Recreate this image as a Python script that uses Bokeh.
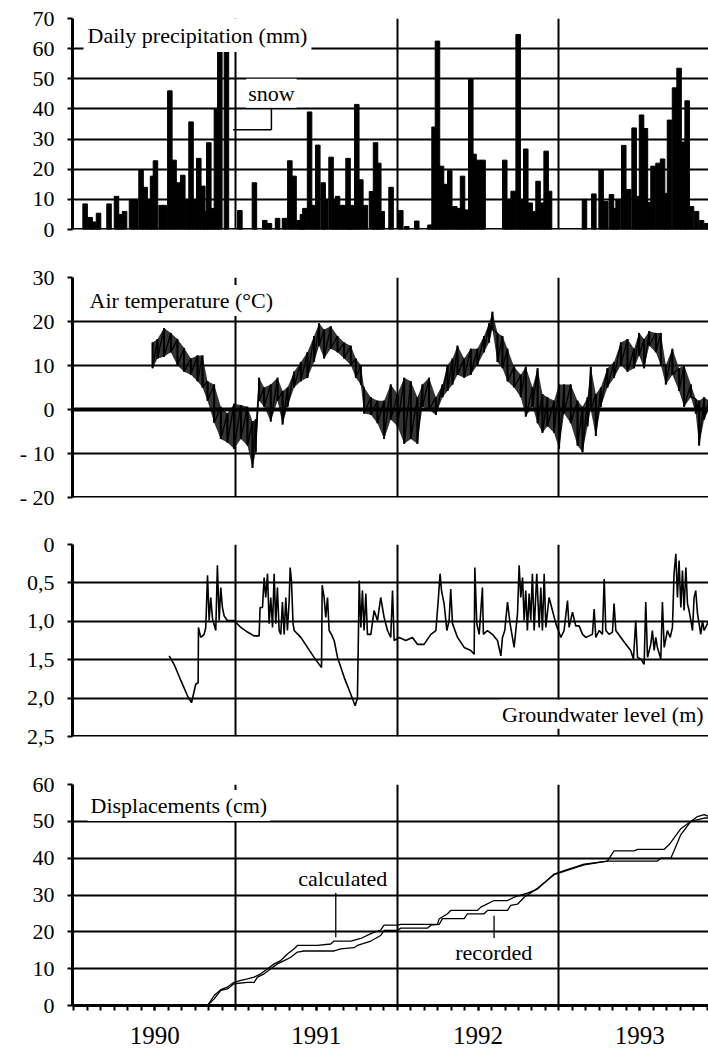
from bokeh.plotting import figure
from bokeh.layouts import column
from bokeh.models import Range1d, FixedTicker, Label, Span
from bokeh.embed import file_html
from bokeh.resources import INLINE

# ---------------- data (decimal years) ----------------
precip_t = [1990.070, 1990.101, 1990.122, 1990.153, 1990.218, 1990.264, 1990.286, 1990.314,
            1990.357, 1990.383, 1990.416, 1990.441, 1990.466, 1990.487, 1990.505, 1990.540,
            1990.563, 1990.594, 1990.620, 1990.645, 1990.674, 1990.703, 1990.725, 1990.750,
            1990.773, 1990.798, 1990.816, 1990.835, 1990.858, 1990.882, 1990.903, 1990.944,
            1991.027, 1991.117, 1991.181, 1991.210, 1991.260, 1991.303, 1991.336, 1991.362,
            1991.393, 1991.414, 1991.429, 1991.458, 1991.486, 1991.509, 1991.542, 1991.558,
            1991.591, 1991.611, 1991.631, 1991.655, 1991.676, 1991.696, 1991.707, 1991.728,
            1991.750, 1991.775, 1991.803, 1991.841, 1991.866, 1991.886, 1991.907, 1991.962,
            1992.022, 1992.059, 1992.121, 1992.203, 1992.228, 1992.249, 1992.274, 1992.300,
            1992.325, 1992.356, 1992.380, 1992.404, 1992.426, 1992.455, 1992.475, 1992.505,
            1992.531, 1992.665, 1992.692, 1992.717, 1992.748, 1992.772, 1992.795, 1992.822,
            1992.847, 1992.871, 1992.898, 1992.921, 1992.942, 1993.158, 1993.216, 1993.261,
            1993.290, 1993.325, 1993.346, 1993.366, 1993.401, 1993.432, 1993.465, 1993.488,
            1993.511, 1993.535, 1993.559, 1993.582, 1993.613, 1993.641, 1993.662, 1993.684,
            1993.715, 1993.743, 1993.768, 1993.793, 1993.820, 1993.851, 1993.882, 1993.913]
precip_mm = [8.5, 4, 2.5, 5.4, 8.5, 11, 5, 6,
             10, 10, 19.8, 14, 10, 17.7, 22.8, 8,
             8, 46, 23, 15.5, 18, 10, 35.7, 10,
             23.6, 14.4, 6, 28.8, 7, 40, 60, 62,
             6.3, 15.5, 3, 2, 3.7, 3.7, 22.8, 17.7,
             3, 5, 7, 39, 8, 28, 15.5, 10,
             24, 10, 11, 8, 8, 23.6, 7, 8,
             41.5, 16.5, 8, 12.6, 28.8, 22, 6, 14,
             6.3, 1, 2.8, 1.5, 34, 62.5, 21, 15,
             19.5, 7.6, 7, 17.7, 6.5, 50, 25, 23,
             23, 23, 10, 12.7, 64.7, 10, 26.7, 8.8,
             6, 16, 8.8, 26, 12.7, 10, 11.8, 19.8,
             9.3, 11.6, 7, 10, 27.9, 13.3, 33.7, 11,
             38, 33.5, 9, 21, 22, 23.4, 12, 36.3,
             47, 53.5, 29, 42.7, 7.6, 6, 3, 2]

temp_t = [1990.487, 1990.518, 1990.558, 1990.600, 1990.641, 1990.682, 1990.724, 1990.765,
          1990.796, 1990.827, 1990.868, 1990.909, 1990.950, 1990.991, 1991.033, 1991.074,
          1991.105, 1991.125, 1991.146, 1991.177, 1991.218, 1991.260, 1991.291, 1991.322,
          1991.362, 1991.404, 1991.445, 1991.486, 1991.517, 1991.548, 1991.589, 1991.631,
          1991.672, 1991.713, 1991.744, 1991.775, 1991.795, 1991.837, 1991.878, 1991.919,
          1991.960, 1992.002, 1992.043, 1992.084, 1992.125, 1992.156, 1992.197, 1992.239,
          1992.280, 1992.311, 1992.342, 1992.373, 1992.414, 1992.455, 1992.496, 1992.537,
          1992.568, 1992.589, 1992.620, 1992.651, 1992.682, 1992.723, 1992.764, 1992.795,
          1992.837, 1992.868, 1992.898, 1992.929, 1992.970, 1993.001, 1993.032, 1993.073,
          1993.115, 1993.146, 1993.177, 1993.197, 1993.228, 1993.259, 1993.300, 1993.341,
          1993.383, 1993.424, 1993.465, 1993.496, 1993.527, 1993.558, 1993.599, 1993.630,
          1993.661, 1993.702, 1993.743, 1993.774, 1993.816, 1993.846, 1993.867, 1993.898,
          1993.927]
temp_hi = [15.2, 16.0, 18.5, 17.4, 16.0, 14.0, 11.6, 12.3,
           12.3, 6.4, 5.7, 0.6, -0.9, 1.3, 1.0, 0.6,
           -2.7, -2.3, 7.2, 5.0, 5.7, 7.2, 4.2, 5.0,
           8.6, 10.8, 13.0, 16.7, 19.6, 18.2, 18.9, 16.7,
           15.2, 14.5, 11.6, 10.1, 5.0, 2.8, 2.0, 2.0,
           5.7, 3.5, 7.2, 6.4, 2.8, 5.7, 7.2, 2.8,
           5.7, 10.1, 11.6, 14.5, 11.6, 13.8, 13.8, 16.7,
           19.6, 22.2, 17.4, 16.7, 13.8, 9.7, 7.9, 9.7,
           5.0, 9.4, 3.5, 2.8, 2.0, 5.7, 5.7, 5.7,
           2.0, 0.6, 2.8, 9.7, 3.5, 5.0, 9.4, 10.8,
           15.2, 16.0, 13.8, 17.4, 16.0, 17.8, 17.4, 17.4,
           10.1, 13.8, 9.4, 10.1, 5.7, 2.4, 2.0, 2.8,
           2.0]
temp_lo = [9.4, 11.6, 12.0, 13.0, 10.0, 8.6, 7.9, 6.4,
           5.0, 2.0, -3.0, -6.7, -7.5, -8.9, -6.7, -8.2,
           -13.3, -9.7, 2.0, 0.6, -2.7, 2.0, -3.4, 0.6,
           5.0, 6.4, 7.2, 10.8, 14.5, 11.6, 13.8, 13.0,
           11.6, 10.1, 7.2, 5.7, -0.9, -1.2, -3.1, -6.7,
           -2.3, -3.8, -7.8, -6.7, -7.8, 0.6, -0.1, -1.2,
           2.8, 4.2, 5.7, 7.9, 7.2, 7.9, 10.1, 13.0,
           15.2, 18.2, 10.8, 9.4, 6.4, 5.0, 2.8, -1.6,
           0.6, -3.1, -5.3, -3.8, -5.3, -8.9, -0.9, -3.1,
           -8.2, -9.7, -3.8, -0.1, -6.0, 0.6, 5.0, 7.2,
           10.1, 8.6, 9.4, 12.3, 9.4, 14.5, 13.0, 10.1,
           5.7, 7.9, 4.2, 0.6, 2.8, -0.9, -8.2, -2.3,
           -0.1]

gw_t = [1990.590, 1990.620, 1990.662, 1990.703, 1990.728, 1990.740, 1990.754, 1990.769, 1990.771, 1990.785,
        1990.806, 1990.816, 1990.827, 1990.837, 1990.847, 1990.858, 1990.878, 1990.888, 1990.899, 1990.909,
        1990.919, 1990.930, 1990.950, 1990.991, 1991.033, 1991.074, 1991.115, 1991.146, 1991.152, 1991.167,
        1991.177, 1991.187, 1991.198, 1991.208, 1991.218, 1991.229, 1991.239, 1991.249, 1991.259, 1991.270,
        1991.280, 1991.290, 1991.301, 1991.311, 1991.321, 1991.332, 1991.338, 1991.346, 1991.356, 1991.363,
        1991.404, 1991.445, 1991.486, 1991.517, 1991.532, 1991.536, 1991.548, 1991.558, 1991.569, 1991.579,
        1991.593, 1991.610, 1991.631, 1991.672, 1991.713, 1991.740, 1991.754, 1991.758, 1991.765, 1991.775,
        1991.785, 1991.795, 1991.806, 1991.816, 1991.837, 1991.857, 1991.878, 1991.898, 1991.919, 1991.940,
        1991.960, 1991.971, 1991.981, 1992.012, 1992.053, 1992.094, 1992.125, 1992.166, 1992.208, 1992.239,
        1992.253, 1992.265, 1992.274, 1992.290, 1992.307, 1992.321, 1992.331, 1992.342, 1992.373, 1992.414,
        1992.455, 1992.476, 1992.480, 1992.492, 1992.507, 1992.527, 1992.533, 1992.558, 1992.589, 1992.620,
        1992.641, 1992.651, 1992.665, 1992.682, 1992.698, 1992.723, 1992.744, 1992.754, 1992.764, 1992.775,
        1992.785, 1992.795, 1992.805, 1992.816, 1992.826, 1992.836, 1992.847, 1992.863, 1992.878, 1992.888,
        1992.898, 1992.909, 1992.919, 1992.939, 1992.960, 1992.981, 1993.012, 1993.032, 1993.053, 1993.063,
        1993.084, 1993.104, 1993.125, 1993.146, 1993.166, 1993.187, 1993.207, 1993.218, 1993.228, 1993.249,
        1993.269, 1993.280, 1993.290, 1993.310, 1993.331, 1993.341, 1993.352, 1993.383, 1993.414, 1993.444,
        1993.461, 1993.475, 1993.486, 1993.506, 1993.527, 1993.537, 1993.548, 1993.568, 1993.578, 1993.589,
        1993.599, 1993.609, 1993.630, 1993.640, 1993.651, 1993.671, 1993.688, 1993.702, 1993.712, 1993.723,
        1993.733, 1993.743, 1993.754, 1993.764, 1993.774, 1993.785, 1993.795, 1993.805, 1993.816, 1993.826,
        1993.836, 1993.846, 1993.857, 1993.867, 1993.877, 1993.888, 1993.898, 1993.927]
gw_m = [1.45, 1.56, 1.77, 1.97, 2.06, 1.95, 1.82, 1.80, 1.08, 1.21,
        1.17, 1.08, 0.40, 0.99, 0.69, 0.97, 1.12, 0.27, 0.99, 0.56,
        0.82, 0.93, 0.99, 0.99, 1.08, 1.14, 1.19, 1.19, 0.82, 0.82,
        0.43, 0.69, 0.38, 1.03, 0.69, 1.08, 0.38, 1.03, 0.56, 1.12,
        1.17, 0.75, 1.17, 0.69, 1.12, 0.73, 0.30, 0.47, 1.03, 1.12,
        1.21, 1.34, 1.47, 1.56, 1.60, 0.53, 0.69, 0.95, 0.69, 1.12,
        1.17, 1.25, 1.47, 1.73, 1.95, 2.10, 2.00, 1.47, 0.47, 1.08,
        0.60, 1.12, 0.64, 1.17, 1.17, 0.86, 0.99, 0.69, 0.95, 1.12,
        1.21, 0.60, 1.25, 1.21, 1.25, 1.21, 1.30, 1.30, 1.17, 1.12,
        0.75, 0.38, 0.60, 0.77, 1.12, 0.99, 0.58, 1.03, 1.21, 1.34,
        1.38, 1.43, 0.30, 1.03, 1.17, 0.56, 1.17, 1.12, 1.17, 1.25,
        1.45, 1.21, 1.12, 0.75, 1.03, 1.34, 0.90, 0.27, 0.69, 0.43,
        0.99, 0.60, 1.12, 0.64, 0.99, 0.38, 1.12, 0.38, 1.08, 0.56,
        1.12, 0.38, 1.08, 0.69, 0.86, 1.03, 1.21, 1.12, 0.73, 1.08,
        0.88, 1.06, 1.06, 1.17, 1.21, 1.19, 1.17, 0.84, 1.21, 1.12,
        1.17, 0.45, 1.12, 1.17, 1.14, 0.77, 1.12, 1.21, 1.30, 1.38,
        1.49, 0.99, 1.47, 1.49, 1.56, 0.75, 1.47, 1.30, 1.12, 1.38,
        1.21, 1.34, 1.49, 0.75, 1.34, 1.12, 1.21, 1.08, 0.38, 0.12,
        0.69, 0.21, 0.82, 0.34, 0.86, 0.30, 0.77, 0.86, 0.99, 1.12,
        0.69, 0.60, 0.90, 1.03, 1.17, 0.99, 1.12, 0.99]

calc_t = [1990.827, 1990.868, 1990.909, 1990.950, 1990.991, 1991.033, 1991.074, 1991.115,
          1991.156, 1991.198, 1991.239, 1991.280, 1991.321, 1991.363, 1991.383, 1991.507,
          1991.589, 1991.610, 1991.713, 1991.775, 1991.837, 1991.898, 1991.919, 1992.001,
          1992.022, 1992.249, 1992.259, 1992.311, 1992.331, 1992.496, 1992.517, 1992.599,
          1992.682, 1992.723, 1992.805, 1992.867, 1992.970, 1993.032, 1993.156, 1993.300,
          1993.341, 1993.465, 1993.486, 1993.651, 1993.682, 1993.754, 1993.857, 1993.898,
          1993.927]
calc_cm = [0, 2.7, 4.3, 5.0, 6.3, 6.8, 7.2, 7.7,
           8.6, 10.0, 11.3, 12.2, 14.0, 15.4, 16.3, 16.3,
           16.7, 17.5, 17.5, 18.2, 19.5, 20.5, 21.8, 21.8,
           22.0, 22.0, 23.5, 24.9, 25.8, 25.8, 26.7, 28.5,
           28.5, 29.4, 30.5, 31.6, 35.7, 36.6, 38.4, 39.2,
           42.0, 42.0, 42.4, 42.4, 43.7, 48.0, 51.3, 51.8,
           51.3]

rec_t = [1990.827, 1990.868, 1990.909, 1990.950, 1990.991, 1991.074, 1991.115, 1991.136,
         1991.177, 1991.218, 1991.259, 1991.301, 1991.342, 1991.383, 1991.424, 1991.610,
         1991.651, 1991.733, 1991.754, 1991.837, 1991.898, 1991.919, 1992.001, 1992.022,
         1992.187, 1992.208, 1992.259, 1992.280, 1992.414, 1992.434, 1992.537, 1992.558,
         1992.682, 1992.702, 1992.744, 1992.785, 1992.867, 1992.970, 1993.032, 1993.156,
         1993.300, 1993.609, 1993.630, 1993.692, 1993.712, 1993.754, 1993.816, 1993.898,
         1993.927]
rec_cm = [0, 1.8, 4.1, 4.5, 5.9, 6.3, 6.3, 7.7,
          8.6, 10.0, 11.3, 12.2, 13.1, 14.5, 14.8, 14.8,
          15.4, 15.7, 16.3, 17.5, 19.0, 20.4, 20.4, 21.0,
          21.0, 21.8, 22.0, 23.6, 23.6, 24.9, 24.9, 25.8,
          25.8, 27.2, 27.5, 29.4, 31.8, 35.5, 36.4, 38.2,
          39.2, 39.2, 40.0, 40.0, 42.0, 46.4, 50.0, 50.9,
          50.9]

year_ticks = [1990.5, 1991.5, 1992.5, 1993.5]
year_labels = ["1990", "1991", "1992", "1993"]
year_bounds = [1991, 1992, 1993]

precip_ticks = [0, 10, 20, 30, 40, 50, 60, 70]
precip_labels = ["0", "10", "20", "30", "40", "50", "60", "70"]
temp_ticks = [-20, -10, 0, 10, 20, 30]
temp_labels = ["- 20", "- 10", "0", "10", "20", "30"]
gw_ticks = [0, 0.5, 1.0, 1.5, 2.0, 2.5]
gw_labels = ["0", "0,5", "1,0", "1,5", "2,0", "2,5"]
disp_ticks = [0, 10, 20, 30, 40, 50, 60]
disp_labels = ["0", "10", "20", "30", "40", "50", "60"]

# ---------------- styling ----------------
FONT = "Liberation Serif"
X0, X1 = 1989.992, 1993.925
W = 708


def panel(height, top, bottom, yr, ticks, labels, with_xaxis=False):
    p = figure(width=W, height=height, x_range=Range1d(X0, X1), y_range=yr,
               output_backend="svg", toolbar_location=None,
               x_axis_location="below" if with_xaxis else None,
               min_border_left=72, min_border_right=0,
               min_border_top=top, min_border_bottom=bottom)
    p.outline_line_color = None
    p.background_fill_color = "white"
    p.border_fill_color = "white"
    ax = p.yaxis[0]
    ax.ticker = FixedTicker(ticks=ticks)
    ax.major_label_overrides = dict(zip(ticks, labels))
    ax.axis_line_width = 3
    ax.axis_line_color = "black"
    ax.major_tick_out = 5
    ax.major_tick_in = 0
    ax.major_tick_line_width = 2
    ax.minor_tick_line_color = None
    ax.major_label_text_font = FONT
    ax.major_label_text_font_size = "22px"
    ax.major_label_text_color = "black"
    ax.major_label_standoff = 13
    p.ygrid.ticker = FixedTicker(ticks=ticks)
    p.ygrid.grid_line_color = "black"
    p.ygrid.grid_line_width = 2
    p.xgrid.ticker = FixedTicker(ticks=year_bounds)
    p.xgrid.grid_line_color = "black"
    p.xgrid.grid_line_width = 2
    return p


def title(p, x, y, text, align="left", pad=2):
    p.add_layout(Label(x=x, y=y, text=text, text_font=FONT, text_font_size="22px",
                       text_color="black", text_align=align, text_baseline="middle",
                       background_fill_color="white", padding=pad))


# Panel 1: precipitation
p1 = panel(253, 18, 24, Range1d(0, 70), precip_ticks, precip_labels)
p1.vbar(x=precip_t, top=precip_mm, bottom=0, width=0.028, color="black")
p1.add_layout(Span(location=0, dimension="width", line_color="black", line_width=3))
p1.segment(x0=[1990.985, 1991.222], y0=[33.1, 33.1], x1=[1991.222, 1991.222], y1=[33.1, 42.3],
           line_color="black", line_width=1.5)
title(p1, 1990.060, 64.4, "Daily precipitation (mm)", pad=4)
title(p1, 1991.222, 45.2, "snow", align="center")

# Panel 2: air temperature
p2 = panel(267, 24, 23, Range1d(-20, 30), temp_ticks, temp_labels)
zig_t, zig_v = [], []
for t, hi, lo in zip(temp_t, temp_hi, temp_lo):
    zig_t += [t, t]
    zig_v += [hi, lo]
p2.varea(x=temp_t, y1=temp_lo, y2=temp_hi, fill_color="#1e1e1e", fill_alpha=0.9)
p2.segment(x0=temp_t, y0=temp_lo, x1=temp_t, y1=temp_hi, line_color="black", line_width=2)
p2.line(zig_t, zig_v, line_color="black", line_width=1.3)
p2.add_layout(Span(location=0, dimension="width", line_color="black", line_width=4))
p2.add_layout(Span(location=-20, dimension="width", line_color="black", line_width=3))
title(p2, 1990.079, 24.8, "Air temperature (°C)", pad=3)

# Panel 3: groundwater
p3 = panel(240, 24, 24, Range1d(2.5, 0), gw_ticks, gw_labels)
p3.line(gw_t, gw_m, line_color="black", line_width=1.6)
p3.add_layout(Span(location=2.5, dimension="width", line_color="black", line_width=3))
title(p3, 1993.907, 2.21, "Groundwater level (m)", align="right")

# Panel 4: displacements
p4 = panel(295, 24, 50, Range1d(0, 60), disp_ticks, disp_labels, with_xaxis=True)
xa = p4.xaxis[0]
xa.ticker = FixedTicker(ticks=year_ticks, minor_ticks=[1990 + m / 12 for m in range(48)])
xa.major_label_overrides = dict(zip(year_ticks, year_labels))
xa.axis_line_width = 3
xa.axis_line_color = "black"
xa.major_tick_out = 5
xa.major_tick_in = 0
xa.minor_tick_out = 5
xa.minor_tick_in = 0
xa.major_tick_line_width = 2
xa.minor_tick_line_width = 2
xa.minor_tick_line_color = "black"
xa.major_label_text_font = FONT
xa.major_label_text_font_size = "25px"
xa.major_label_text_color = "black"
xa.major_label_standoff = 16
p4.line(calc_t, calc_cm, line_color="black", line_width=1.3)
p4.line(rec_t, rec_cm, line_color="black", line_width=1.3)
p4.segment(x0=[1991.620, 1992.599], y0=[18.5, 16.8], x1=[1991.620, 1992.599], y1=[32.1, 24.4],
           line_color="black", line_width=1.3)
title(p4, 1990.085, 54.3, "Displacements (cm)", pad=3)
title(p4, 1991.663, 34.5, "calculated", align="center")
title(p4, 1992.597, 14.4, "recorded", align="center")

layout = column(p1, p2, p3, p4, spacing=0)
open("out.html", "w").write(file_html(layout, INLINE))
